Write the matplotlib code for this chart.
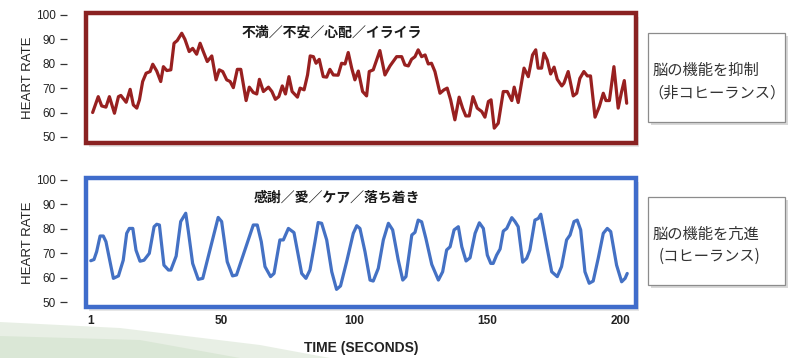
import matplotlib
matplotlib.use('Agg')
from matplotlib import pyplot as plt
from matplotlib.patches import Rectangle, Polygon

plt.rcParams['font.family'] = ['Liberation Sans', 'Noto Sans CJK JP', 'DejaVu Sans']

# heart rate, time in seconds
red_t = [1.6, 3.7, 5.0, 6.6, 7.9, 9.8, 11.3, 12.2, 14.2, 15.7, 16.9, 18.2, 19.2,
         20.4, 21.7, 23.2, 24.2, 25.7, 27.2, 28.2, 29.5, 31.0, 32.2, 33.4, 35.1,
         36.3, 37.9, 39.2, 40.7, 42.0, 43.2, 44.7, 46.4, 48.0, 49.2, 50.5, 52.0,
         53.3, 54.5, 56.0, 57.3, 59.3, 60.5, 62.0, 63.3, 64.3, 65.8, 67.7, 69.0,
         70.3, 71.6, 72.9, 74.1, 75.4, 76.6, 78.6, 79.6, 81.1, 82.4, 83.4, 84.6,
         85.6, 86.8, 88.3, 89.6, 90.8, 92.1, 93.9, 95.2, 96.5, 97.7, 99.0, 100.2,
         101.5, 103.1, 104.6, 105.6, 107.1, 109.6, 111.5, 113.4, 115.9, 117.8,
         119.0, 120.3, 121.5, 122.8, 124.0, 125.3, 126.6, 127.8, 129.0, 130.3,
         132.2, 133.7, 134.9, 136.2, 137.8, 139.4, 140.7, 141.9, 143.2, 144.6,
         146.2, 147.9, 149.1, 150.4, 151.4, 152.6, 154.1, 156.0, 157.5, 159.2,
         160.1, 161.6, 163.8, 165.4, 167.0, 168.2, 169.1, 170.4, 171.3, 172.5,
         173.8, 175.1, 176.3, 178.0, 178.8, 180.4, 182.3, 183.6, 184.8, 186.3,
         187.6, 188.8, 190.5, 192.1, 193.6, 194.6, 195.9, 197.6, 199.2, 200.5,
         201.5, 202.4]
red_hr = [60.0, 66.5, 62.7, 62.2, 66.5, 59.7, 66.5, 67.0, 64.2, 69.5, 63.1, 61.8, 65.2,
          72.7, 76.1, 76.8, 79.8, 77.0, 72.7, 78.8, 77.2, 77.5, 88.4, 89.5, 92.5,
          90.0, 85.0, 86.3, 83.9, 88.4, 85.0, 80.9, 83.2, 73.4, 77.5, 76.8, 73.4,
          72.7, 70.2, 77.7, 77.7, 64.9, 70.4, 68.2, 67.6, 73.6, 68.6, 70.4, 68.6,
          65.4, 66.5, 70.9, 67.6, 74.7, 68.6, 66.3, 70.0, 69.3, 75.4, 83.2, 82.9,
          80.2, 81.8, 74.7, 74.5, 77.7, 75.4, 75.3, 80.2, 79.9, 84.6, 78.2, 73.4,
          77.0, 68.6, 66.8, 76.8, 77.5, 85.4, 75.4, 79.1, 82.9, 82.9,
          79.5, 79.1, 81.8, 82.9, 85.7, 82.9, 83.6, 79.9, 80.2, 76.8,
          67.9, 69.3, 70.0, 65.2, 57.0, 66.3, 61.8, 58.6, 58.6, 66.5,
          61.8, 60.4, 58.1, 64.5, 65.2, 53.6, 55.6, 68.6, 68.6, 64.9,
          70.4, 64.1, 78.2, 74.7, 83.6, 85.7, 78.2, 78.2, 84.3, 81.6,
          75.8, 78.6, 73.6, 70.9, 72.0, 76.8, 66.8, 67.9, 74.0, 76.8,
          75.0, 75.0, 58.1, 62.4, 67.9, 64.9, 64.9, 78.8, 61.8, 68.6,
          73.1, 63.8]

blue_t = [0.9, 2.1, 3.1, 4.4, 5.6, 6.6, 9.4, 11.3, 13.1, 14.4, 15.4, 16.7, 17.9,
          19.4, 20.9, 22.9, 24.7, 25.7, 26.7, 28.4, 30.1, 31.0, 33.0, 34.7, 36.6,
          37.6, 39.2, 41.3, 43.0, 48.8, 50.1, 52.2, 54.2, 55.7, 62.0, 63.5, 65.0,
          66.4, 68.5, 69.8, 72.0, 73.3, 75.2, 77.3, 80.2, 81.8, 83.3, 85.2, 86.4,
          87.7, 89.6, 91.5, 93.3, 94.8, 97.1, 99.6, 100.9, 102.1, 104.0, 105.9,
          107.1, 109.0, 110.9, 112.8, 114.4, 116.5, 118.2, 119.4, 121.6, 122.8,
          124.0, 125.3, 126.9, 129.1, 131.6, 133.2, 134.7, 136.0, 137.5, 139.1,
          140.4, 142.0, 143.5, 145.4, 147.0, 148.5, 150.0, 151.3, 152.2, 153.5,
          154.8, 156.0, 157.3, 159.2, 160.4, 161.6, 163.3, 164.8, 166.0, 167.9,
          169.2, 170.1, 171.0, 172.5, 174.2, 176.3, 177.9, 179.8, 181.1, 182.6,
          183.8, 185.1, 186.7, 188.3, 189.8, 191.7, 193.6, 195.1, 196.4, 198.6,
          200.5, 201.8, 202.6]
blue_hr = [67.0, 67.5, 70.7, 77.1, 77.1, 74.8, 59.8, 60.8, 67.2, 78.2, 80.2, 80.2, 71.3,
           66.8, 67.2, 70.0, 80.9, 81.9, 81.6, 65.2, 63.2, 63.2, 68.9, 83.0, 86.4,
           78.9, 65.9, 59.4, 59.8, 84.7, 83.0, 66.6, 60.8, 61.2, 81.6, 81.6, 74.8,
           64.6, 60.5, 61.8, 75.5, 75.5, 80.2, 78.5, 61.8, 59.8, 63.2, 74.8, 82.6,
           82.3, 75.5, 62.5, 55.3, 56.7, 66.6, 78.2, 81.3, 80.2, 70.7, 59.1,
           58.7, 63.9, 75.5, 82.3, 79.6, 67.3, 59.1, 60.5, 77.5, 78.6,
           83.6, 82.9, 76.1, 65.5, 59.1, 62.5, 71.4, 72.7, 79.6, 80.9,
           72.7, 66.9, 68.2, 78.2, 82.5, 80.2, 69.3, 65.9, 65.9, 69.3,
           71.8, 79.1, 80.2, 84.6, 83.0, 80.9, 66.4, 68.0, 71.4, 83.6,
           84.3, 86.0, 80.9, 72.1, 62.5, 60.5, 64.6, 75.5, 77.5, 83.0,
           83.6, 79.6, 62.5, 57.8, 58.7, 68.0, 78.2, 80.2, 78.9, 65.2,
           58.4, 59.8, 61.8]

hr_ticks = [50, 60, 70, 80, 90, 100]
time_ticks = [1, 50, 100, 150, 200]

top_title = '不満／不安／心配／イライラ'
bottom_title = '感謝／愛／ケア／落ち着き'
top_note = ['脳の機能を抑制', '（非コヒーランス）']
bottom_note = ['脳の機能を亢進', '(コヒーランス)']

W, H = 800, 358
fig = plt.figure(figsize=(W / 100, H / 100), dpi=100)
fig.patch.set_facecolor('white')

# faint green swoosh in the lower left corner
bg = fig.add_axes([0, 0, 1, 1], zorder=-5)
bg.set_axis_off()
bg.set_xlim(0, W)
bg.set_ylim(H, 0)
bg.add_patch(Polygon([(0, 322), (120, 328), (260, 345), (330, 358), (0, 358)],
                     closed=True, facecolor='#e3ecdf', edgecolor='none', alpha=0.8))
bg.add_patch(Polygon([(0, 336), (140, 340), (240, 358), (0, 358)],
                     closed=True, facecolor='#d2e2cc', edgecolor='none', alpha=0.6))


def px_box(x0, y0, x1, y1):
    return [x0 / W, 1 - y1 / H, (x1 - x0) / W, (y1 - y0) / H]


def heart_panel(rect, t, hr, color, line_color, title, title_x, ylim, show_x):
    ax = fig.add_axes(rect)
    ax.set_facecolor('none')
    ax.plot(t, hr, color=line_color, lw=2.3, solid_joinstyle='round',
            solid_capstyle='round', zorder=3)
    ax.set_xlim(-0.9, 205.9)
    ax.set_ylim(*ylim)
    for s in ax.spines.values():
        s.set_visible(False)
    ax.spines['left'].set_position(('outward', 14))
    # soft shadow + thick frame
    ax.add_patch(Rectangle((0.006, -0.03), 1.0, 1.0, transform=ax.transAxes,
                           facecolor='#e6e6e6', edgecolor='none', clip_on=False,
                           zorder=0))
    ax.add_patch(Rectangle((0, 0), 1, 1, transform=ax.transAxes,
                           facecolor='white', edgecolor=color, lw=3.2,
                           clip_on=False, zorder=1))
    ax.set_yticks(hr_ticks)
    ax.tick_params(axis='y', length=5, width=0.9, color='#333333', pad=3,
                   labelsize=8.5, labelcolor='#222222')
    ax.set_ylabel('HEART RATE', fontsize=9.5, color='#222222', labelpad=1)
    if show_x:
        ax.set_xticks(time_ticks)
        ax.tick_params(axis='x', length=0, pad=6, labelsize=8.5,
                       labelcolor='#222222')
        for lab in ax.get_xticklabels():
            lab.set_fontweight('bold')
        ax.set_xlabel('TIME (SECONDS)', fontsize=10, fontweight='bold',
                      color='#222222', labelpad=10)
    else:
        ax.set_xticks([])
    ax.text(title_x, 0.85, title, transform=ax.transAxes, ha='center', va='center',
            fontsize=10, fontweight='bold', color='#1a1a1a',
            family=['Noto Sans CJK JP', 'DejaVu Sans'], zorder=4)
    return ax


heart_panel(px_box(86, 13, 636, 143), red_t, red_hr, '#8a2222', '#982020',
            top_title, 0.447, (47.5, 100.8), False)
heart_panel(px_box(86, 178, 636, 307), blue_t, blue_hr, '#3f6ccb', '#4471c4',
            bottom_title, 0.456, (48.1, 100.8), True)


def note_box(rect, lines, x2):
    ax = fig.add_axes(rect)
    ax.set_axis_off()
    ax.add_patch(Rectangle((0.02, -0.03), 1.0, 1.0, transform=ax.transAxes,
                           facecolor='#d8d8d8', edgecolor='none', clip_on=False))
    ax.add_patch(Rectangle((0, 0), 1, 1, transform=ax.transAxes,
                           facecolor='white', edgecolor='#8c8c8c', lw=0.9,
                           clip_on=False))
    ax.text(0.03, 0.58, lines[0], transform=ax.transAxes, ha='left',
            va='center', fontsize=11, color='#333333',
            family=['Noto Sans CJK JP', 'DejaVu Sans'])
    ax.text(x2, 0.33, lines[1], transform=ax.transAxes, ha='left',
            va='center', fontsize=11, color='#333333',
            family=['Noto Sans CJK JP', 'DejaVu Sans'])


note_box(px_box(648, 33, 785, 122), top_note, 0.0)
note_box(px_box(648, 197, 785, 285), bottom_note, 0.08)

fig.savefig('out.png', dpi=100, facecolor='white')
